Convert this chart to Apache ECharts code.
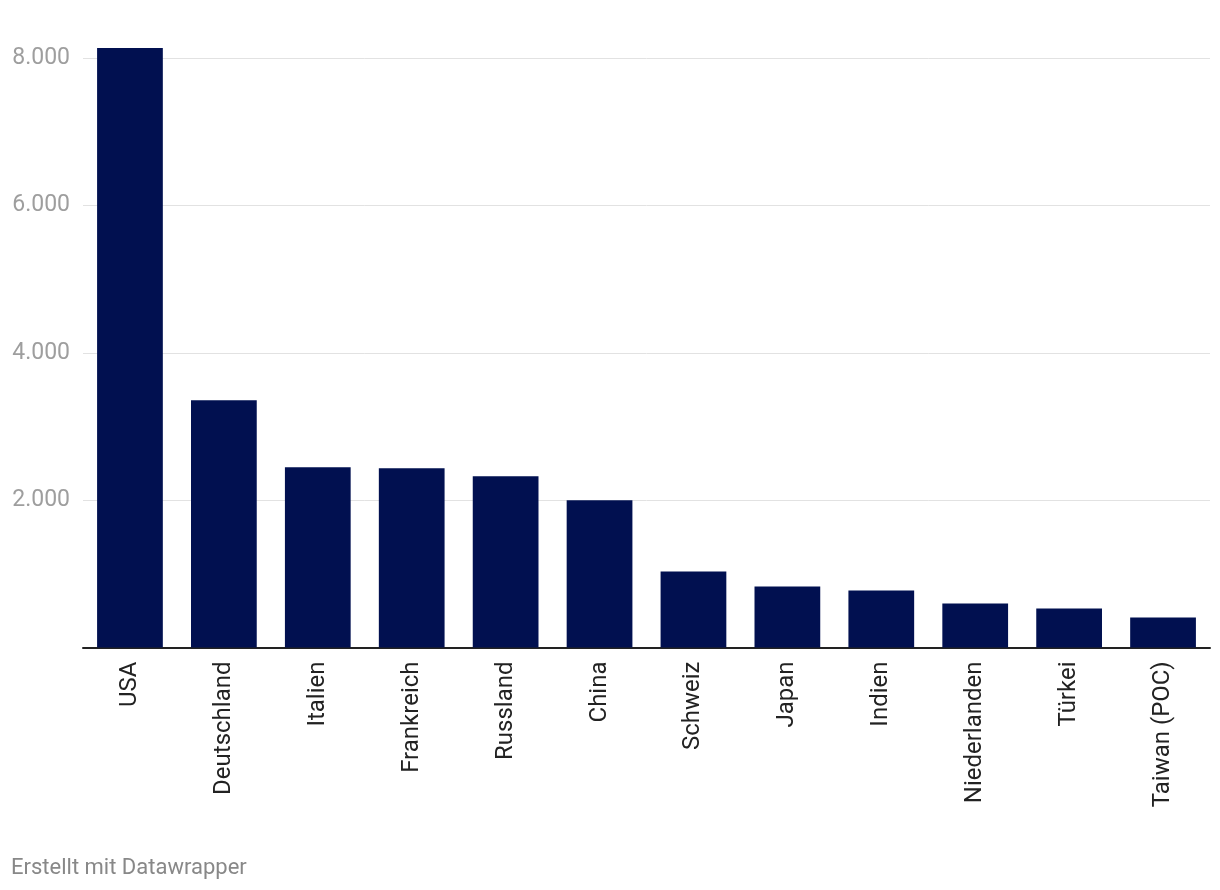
<!DOCTYPE html>
<html>
<head>
<meta charset="utf-8">
<script src="https://cdn.jsdelivr.net/npm/echarts@6/dist/echarts.min.js"></script>
<style>
html,body{margin:0;padding:0;background:#fff;}
#chart{width:1220px;height:890px;}
</style>
</head>
<body>
<div id="chart"></div>
<script>
const categories = ['USA','Deutschland','Italien','Frankreich','Russland','China','Schweiz','Japan','Indien','Niederlanden','Türkei','Taiwan (POC)'];
const values = [8136, 3355, 2445, 2431, 2323, 1997, 1032, 829, 774, 598, 530, 407];
const yTicks = [0, 2000, 4000, 6000, 8000];
const footer = 'Erstellt mit Datawrapper';

const chart = echarts.init(document.getElementById('chart'), null, {renderer:'canvas'});
const fmt = v => String(v).replace(/\B(?=(\d{3})+(?!\d))/g, '.');
chart.setOption({
  animation:false,
  backgroundColor:'#ffffff',
  textStyle:{fontFamily:'Roboto'},
  grid:{left:83, right:10, top:58, bottom:242.5, containLabel:false},
  xAxis:{
    type:'category',
    data:categories,
    axisLine:{lineStyle:{color:'#222', width:2}},
    axisTick:{show:false},
    axisLabel:{rotate:90, margin:14, color:'#222', fontSize:24, fontFamily:'Roboto', interval:0}
  },
  yAxis:{
    type:'value',
    min:yTicks[0], max:yTicks[yTicks.length-1], interval:yTicks[1]-yTicks[0],
    axisLine:{show:false},
    axisTick:{show:false},
    splitLine:{lineStyle:{color:'#e2e2e2', width:1}},
    axisLabel:{showMinLabel:false, align:'right', margin:13, color:'#9e9e9e', fontSize:23, fontFamily:'Roboto', formatter:fmt}
  },
  series:[{
    type:'bar',
    data:values,
    clip:false,
    barCategoryGap:'30%',
    itemStyle:{color:'#011050'}
  }],
  graphic:[{
    type:'text', left:11, top:857,
    style:{text:footer, fill:'#888', font:'22px Roboto'}
  }]
});
</script>
</body>
</html>
